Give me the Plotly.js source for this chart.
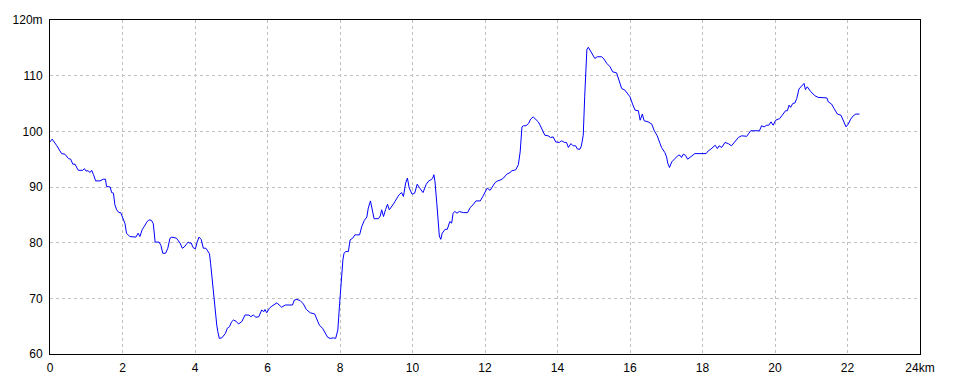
<!DOCTYPE html>
<html>
<head>
<meta charset="utf-8">
<script src="https://cdn.plot.ly/plotly-3.0.1.min.js"></script>
<style>html,body{margin:0;padding:0;background:#fff;}#chart{width:960px;height:384px;}</style>
</head>
<body>
<div id="chart"></div>
<script>
// distance along route (km)
const distanceKm = [
0.00,0.06,0.18,0.32,0.41,0.51,0.57,0.63,0.69,0.78,0.90,0.95,0.99,1.06,1.10,1.15,1.20,1.26,1.38,1.47,
1.53,1.56,1.66,1.70,1.75,1.79,1.84,1.90,1.95,2.02,2.07,2.11,2.20,2.37,2.43,2.48,2.54,2.60,2.67,2.73,
2.80,2.85,2.90,3.01,3.06,3.11,3.19,3.25,3.31,3.36,3.49,3.59,3.65,3.70,3.77,3.81,3.86,3.89,3.95,4.01,
4.06,4.11,4.17,4.23,4.30,4.34,4.40,4.43,4.48,4.52,4.56,4.60,4.63,4.67,4.74,4.80,4.84,4.89,4.95,5.01,
5.06,5.13,5.20,5.29,5.38,5.49,5.54,5.61,5.68,5.76,5.84,5.90,5.93,5.98,6.05,6.12,6.18,6.26,6.32,6.39,
6.49,6.63,6.69,6.74,6.81,6.90,6.99,7.07,7.18,7.30,7.36,7.43,7.52,7.59,7.66,7.73,7.82,7.88,7.94,7.99,
8.03,8.08,8.11,8.16,8.23,8.28,8.35,8.41,8.46,8.54,8.60,8.67,8.74,8.78,8.84,8.88,8.94,9.06,9.11,9.15,
9.20,9.26,9.31,9.36,9.43,9.49,9.57,9.63,9.70,9.75,9.81,9.86,9.91,9.99,10.06,10.13,10.20,10.29,10.38,10.45,
10.51,10.56,10.59,10.62,10.67,10.71,10.74,10.78,10.82,10.90,10.96,11.03,11.08,11.12,11.17,11.23,11.29,11.40,11.52,11.59,
11.67,11.75,11.87,11.94,12.00,12.06,12.14,12.21,12.28,12.35,12.44,12.51,12.60,12.69,12.74,12.85,12.92,12.97,13.02,13.06,
13.13,13.20,13.26,13.33,13.41,13.47,13.52,13.59,13.65,13.74,13.81,13.88,13.95,14.05,14.11,14.20,14.25,14.30,14.37,14.43,
14.50,14.55,14.62,14.66,14.71,14.75,14.79,14.81,14.85,14.90,14.97,15.03,15.10,15.22,15.28,15.36,15.45,15.52,15.63,15.70,
15.77,15.86,15.93,16.00,16.07,16.14,16.23,16.28,16.34,16.39,16.50,16.60,16.67,16.75,16.83,16.87,16.96,17.01,17.04,17.09,
17.15,17.24,17.33,17.38,17.42,17.47,17.53,17.59,17.68,17.79,17.93,18.10,18.16,18.23,18.35,18.41,18.46,18.53,18.62,18.71,
18.80,18.90,18.99,19.08,19.22,19.33,19.45,19.57,19.63,19.70,19.77,19.83,19.89,19.95,20.02,20.13,20.20,20.29,20.34,20.39,
20.43,20.49,20.55,20.60,20.66,20.74,20.80,20.84,20.89,20.99,21.10,21.19,21.33,21.43,21.47,21.56,21.63,21.72,21.82,21.88,
21.96,22.02,22.09,22.16,22.23,22.33
];
// elevation (m)
const elevationM = [
98.1,98.6,97.5,96.0,95.9,95.1,95.0,94.1,94.1,93.0,93.0,93.3,92.9,92.9,92.6,93.0,92.2,91.1,91.1,91.4,
91.4,90.1,90.0,89.0,88.9,86.8,85.9,85.4,85.4,84.0,83.4,81.7,81.1,81.0,81.7,81.1,82.3,82.9,83.7,84.1,
84.0,83.4,80.1,80.1,79.5,78.1,78.1,79.0,80.8,81.0,80.8,79.9,79.0,79.2,79.9,80.1,79.9,80.0,79.1,78.9,
80.1,81.0,80.6,79.0,79.0,78.6,78.0,76.3,72.7,70.3,67.3,65.2,64.0,62.8,62.9,63.4,63.7,64.6,64.9,65.8,
66.1,65.9,65.4,65.8,67.0,67.0,66.7,67.0,66.6,66.7,67.9,67.6,68.0,67.4,68.2,68.6,68.8,69.2,68.8,68.4,
68.8,68.8,68.8,69.7,69.8,69.6,69.0,68.0,67.4,67.2,66.4,65.2,64.6,63.7,63.0,62.8,62.9,62.8,64.3,69.1,
73.0,76.9,78.1,78.4,78.4,80.5,80.8,81.4,81.4,81.4,82.9,84.0,84.6,86.2,87.5,86.2,84.3,84.3,84.8,85.9,
84.7,86.0,86.9,85.9,86.5,87.1,88.0,88.6,89.0,88.3,90.7,91.6,89.8,88.7,88.9,90.5,89.8,89.0,90.5,91.1,
91.3,91.6,92.2,91.0,87.1,82.9,81.2,80.6,81.7,82.4,82.4,83.8,83.5,85.3,85.6,85.3,85.6,85.4,85.4,86.3,
86.8,87.5,87.5,88.3,89.2,89.8,89.4,90.2,90.8,91.1,91.3,91.6,92.3,92.6,92.9,93.1,94.0,96.3,100.8,101.0,
101.0,101.4,102.2,102.6,102.0,101.7,101.1,100.2,99.3,99.2,98.9,99.0,98.1,98.0,98.3,98.0,98.0,97.1,97.8,97.4,
97.4,96.8,96.8,97.4,99.3,106.2,111.0,114.7,115.1,114.5,113.6,113.1,113.4,113.4,113.0,112.2,111.6,110.7,110.5,108.9,
107.7,107.4,106.7,106.2,104.9,103.8,103.7,102.0,103.1,101.9,101.7,101.3,100.1,99.2,97.8,97.1,96.2,95.4,94.3,93.5,
94.5,95.1,95.7,95.7,95.3,95.9,95.7,95.0,95.4,96.0,96.0,96.0,96.5,96.8,97.5,96.9,97.4,97.1,98.0,97.8,
97.4,98.1,98.9,99.2,99.1,100.1,100.1,100.1,101.0,100.8,101.1,101.1,101.7,101.1,102.0,102.3,102.9,103.7,103.7,104.7,
104.3,105.0,105.1,105.9,107.6,108.2,108.6,107.5,108.0,107.1,106.4,106.1,106.1,106.0,105.3,104.9,104.1,103.1,102.9,101.9,
100.8,101.3,102.2,102.8,103.1,103.1
];
const xTickVals = [0,2,4,6,8,10,12,14,16,18,20,22,24];
const xTickText = ['0','2','4','6','8','10','12','14','16','18','20','22','24km'];
const yTickVals = [60,70,80,90,100,110,120];
const yTickText = ['60','70','80','90','100','110','120m'];

const font = {family: 'Liberation Sans Narrow, Liberation Sans, sans-serif', size: 12, color: '#000'};

Plotly.newPlot('chart', [{
  x: distanceKm, y: elevationM, type: 'scatter', mode: 'lines',
  line: {color: '#0000ff', width: 1}, hoverinfo: 'skip'
}], {
  width: 960, height: 384,
  margin: {l: 50, r: 40, t: 20, b: 30, pad: 0},
  paper_bgcolor: '#fff', plot_bgcolor: '#fff',
  showlegend: false,
  font: font,
  xaxis: {
    range: [0, 24], tickvals: xTickVals, ticktext: xTickText,
    showgrid: true, gridcolor: '#c0c0c0', gridwidth: 1, griddash: '3px,3px',
    showline: true, linecolor: '#000', linewidth: 1, mirror: true,
    ticks: 'outside', ticklen: 3, tickcolor: 'rgba(0,0,0,0)', zeroline: false, tickfont: font
  },
  yaxis: {
    range: [60, 120], tickvals: yTickVals, ticktext: yTickText,
    showgrid: true, gridcolor: '#c0c0c0', gridwidth: 1, griddash: '3px,3px',
    showline: true, linecolor: '#000', linewidth: 1, mirror: true,
    ticks: 'outside', ticklen: 4, tickcolor: 'rgba(0,0,0,0)', zeroline: false, tickfont: font
  }
}, {staticPlot: true, displayModeBar: false});
</script>
</body>
</html>
